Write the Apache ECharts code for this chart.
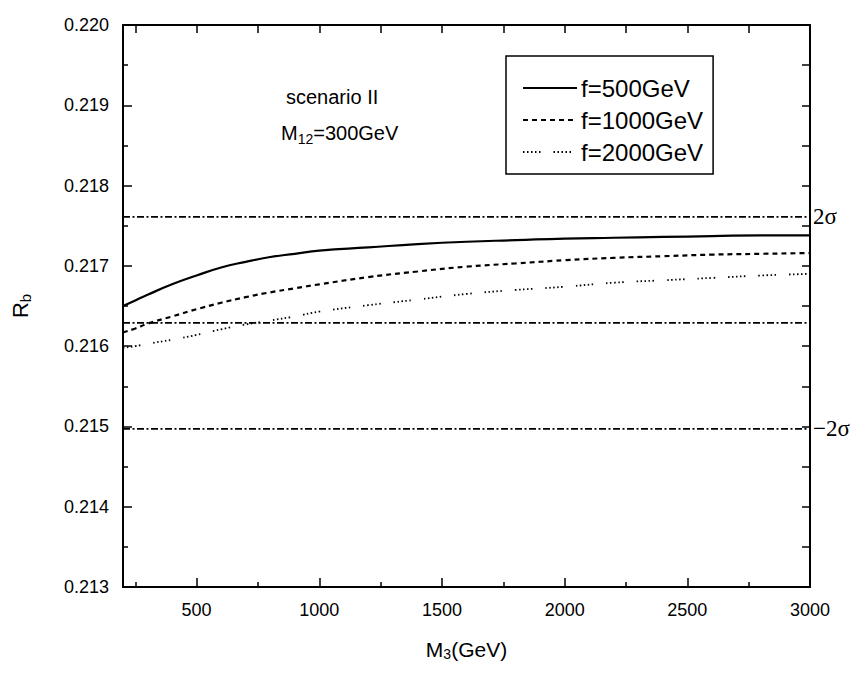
<!DOCTYPE html>
<html>
<head>
<meta charset="utf-8">
<script src="https://cdn.jsdelivr.net/npm/echarts@6/dist/echarts.min.js"></script>
<style>
html,body{margin:0;padding:0;background:#fff;}
#chart{width:852px;height:673px;}
</style>
</head>
<body>
<div id="chart"></div>
<script>
// ---- data ----
const M3 = [200, 250, 300, 400, 500, 600, 700, 800, 900, 1000, 1200, 1400, 1600, 1800, 2000, 2200, 2400, 2600, 2800, 3000];
const Rb_f500 = [0.21650, 0.21657, 0.21664, 0.21677, 0.21688, 0.21698, 0.21705, 0.21711, 0.21715, 0.21719, 0.21723, 0.21727, 0.21730, 0.21732, 0.21734, 0.21735, 0.21736, 0.21737, 0.21738, 0.21738];
const Rb_f1000 = [0.21617, 0.21622, 0.21628, 0.21637, 0.21646, 0.21654, 0.21661, 0.21667, 0.21672, 0.21677, 0.21686, 0.21693, 0.21699, 0.21703, 0.21707, 0.21710, 0.21712, 0.21714, 0.21715, 0.21716];
const Rb_f2000 = [0.21598, 0.21600, 0.21603, 0.21608, 0.21614, 0.21621, 0.21627, 0.21632, 0.21637, 0.21643, 0.21651, 0.21658, 0.21665, 0.21670, 0.21674, 0.21679, 0.21682, 0.21685, 0.21688, 0.21690];
const seriesNames = ['f=500GeV', 'f=1000GeV', 'f=2000GeV'];
const sigmaValues = [0.21761, 0.21629, 0.21497];
const sigmaLabels = ['2σ', '', '−2σ'];
const xMin = 200, xMax = 3000;
const yMin = 0.213, yMax = 0.220;
const xMajorTicks = [500, 1000, 1500, 2000, 2500, 3000];
const xMinorTicks = [250, 750, 1250, 1750, 2250, 2750];
const xTopTicks = [250, 500, 750, 1000, 1250, 1500, 1750, 2000, 2250, 2500, 2750];

const pair = (xs, ys) => xs.map((x, i) => [x, ys[i]]);
const FONT = 'Liberation Sans, Arial, sans-serif';
const black = '#000';

const chart = echarts.init(document.getElementById('chart'), null, {renderer: 'svg'});

const grid = {left: 123, right: 42, top: 25, bottom: 86};

const xBase = {type: 'value', min: xMin, max: xMax, splitLine: {show: false}};
const option = {
  backgroundColor: '#fff',
  animation: false,
  grid: grid,
  legend: {
    data: seriesNames,
    orient: 'vertical',
    left: 506, top: 56,
    itemWidth: 54, itemHeight: 14, itemGap: 8,
    padding: [20, 10, 10, 16],
    borderColor: black, borderWidth: 1.5,
    itemStyle: {opacity: 0},
    textStyle: {fontFamily: FONT, fontSize: 24, color: black, padding: [0, 0, 0, -1]},
    selectedMode: false
  },
  xAxis: [
    Object.assign({}, xBase, {
      position: 'bottom',
      name: '{a|M}{s|3}{a|(GeV)}', nameLocation: 'middle', nameGap: 50,
      nameTextStyle: {rich: {a: {fontFamily: FONT, fontSize: 21, color: black}, s: {fontFamily: FONT, fontSize: 14, color: black, verticalAlign: 'bottom', padding: [10, 0, 0, 0]}}},
      axisLine: {show: true, lineStyle: {color: black, width: 2}},
      axisTick: {show: true, inside: true, length: 9, customValues: xMajorTicks, lineStyle: {color: black, width: 1.5}},
      axisLabel: {show: true, customValues: xMajorTicks, margin: 14, fontFamily: FONT, fontSize: 18, color: black, formatter: v => String(v)}
    }),
    Object.assign({}, xBase, {
      position: 'bottom',
      axisLine: {show: false},
      axisTick: {show: true, inside: true, length: 5, customValues: xMinorTicks, lineStyle: {color: black, width: 1.5}},
      axisLabel: {show: false}
    }),
    Object.assign({}, xBase, {
      position: 'top',
      axisLine: {show: true, lineStyle: {color: black, width: 2}},
      axisTick: {show: true, inside: true, length: 8, customValues: xTopTicks, lineStyle: {color: black, width: 1.5}},
      axisLabel: {show: false}
    })
  ],
  yAxis: [
    {
      type: 'value', min: yMin, max: yMax, interval: 0.001, position: 'left',
      name: '{a|R}{s|b}', nameLocation: 'middle', nameGap: 90,
      nameTextStyle: {rich: {a: {fontFamily: FONT, fontSize: 22, color: black}, s: {fontFamily: FONT, fontSize: 15, color: black, verticalAlign: 'bottom', padding: [10, 0, 0, 0]}}},
      splitLine: {show: false},
      axisLine: {show: true, lineStyle: {color: black, width: 2}},
      axisTick: {show: true, inside: true, length: 9, lineStyle: {color: black, width: 1.5}},
      minorTick: {show: true, splitNumber: 2, length: 5, lineStyle: {color: black, width: 1.5}},
      axisLabel: {margin: 14, fontFamily: FONT, fontSize: 18, color: black, formatter: v => v.toFixed(3)}
    },
    {
      type: 'value', min: yMin, max: yMax, interval: 0.0005, position: 'right',
      splitLine: {show: false},
      axisLine: {show: true, lineStyle: {color: black, width: 2}},
      axisTick: {show: true, inside: true, length: 8, lineStyle: {color: black, width: 1.5}},
      axisLabel: {show: false}
    }
  ],
  graphic: [
    {type: 'text', left: 286, top: 87, style: {text: 'scenario II', fontFamily: FONT, fontSize: 20, fill: black}},
    {type: 'text', left: 281, top: 123, style: {
      text: '{a|M}{s|12}{a|=300GeV}',
      rich: {a: {fontFamily: FONT, fontSize: 20, fill: black}, s: {fontFamily: FONT, fontSize: 14, fill: black, verticalAlign: 'bottom', padding: [11, 0, 0, 0]}}
    }}
  ],
  series: [
    {name: seriesNames[0], type: 'line', data: pair(M3, Rb_f500), showSymbol: false, symbol: 'none', smooth: true,
      lineStyle: {color: black, width: 2.2, type: 'solid'}, itemStyle: {color: black}},
    {name: seriesNames[1], type: 'line', data: pair(M3, Rb_f1000), showSymbol: false, symbol: 'none', smooth: true,
      lineStyle: {color: black, width: 2.2, type: [5, 4]}, itemStyle: {color: black}},
    {name: seriesNames[2], type: 'line', data: pair(M3, Rb_f2000), showSymbol: false, symbol: 'none', smooth: true,
      lineStyle: {color: black, width: 1.8, type: [1.5, 2.5, 1.5, 2.5, 1.5, 2.5, 1.5, 2.5, 1.5, 13]}, itemStyle: {color: black}}
  ].concat(sigmaValues.map((v, i) => ({
    name: 'sigma' + i, type: 'line', data: [[xMin, v], [xMax, v]], symbol: 'none', showSymbol: false,
    lineStyle: {color: black, width: 1.6, type: [7, 2.5, 2, 2.5]},
    endLabel: {show: sigmaLabels[i] !== '', formatter: () => sigmaLabels[i], distance: 3,
      fontFamily: 'Liberation Serif, Times New Roman, serif', fontSize: 23, color: black},
    silent: true
  })))
};
chart.setOption(option);
</script>
</body>
</html>
